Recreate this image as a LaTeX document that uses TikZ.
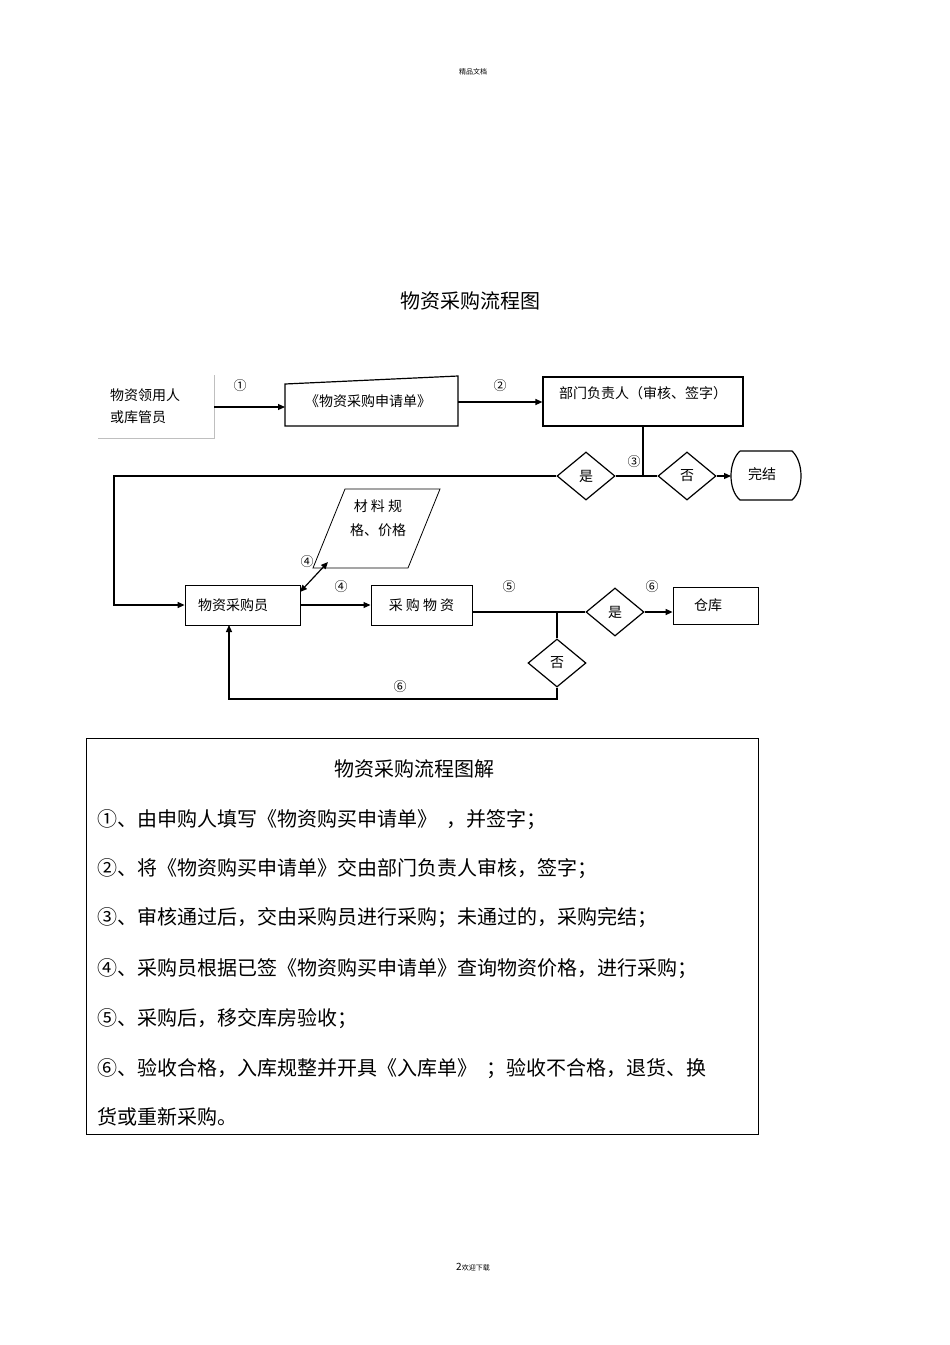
\documentclass[tikz,border=0pt]{standalone}
\usepackage{fontspec}
\setmainfont{Noto Sans CJK SC}
\usetikzlibrary{arrows.meta,shapes.geometric}
\begin{document}
\begin{tikzpicture}[x=1pt,y=-1pt,
  ln/.style={line width=1.2pt},
  arr/.style={ln,-{Triangle[length=7pt,width=6pt]}},
  dia/.style={draw,line width=1.2pt,diamond,minimum width=58pt,minimum height=48pt,inner sep=0pt},
  lab/.style={font=\fontsize{14}{16}\selectfont,inner sep=0pt},
  num/.style={font=\fontsize{13}{14}\selectfont,inner sep=0pt},
  expl/.style={font=\fontsize{20}{22}\selectfont,anchor=west,inner sep=0pt}]
\useasboundingbox[fill=white] (0,0) rectangle (950,1345);
\node[font=\fontsize{7}{8}\selectfont] (hdr) at (473,72) {精品文档};
\node[font=\fontsize{20}{22}\selectfont] (title) at (470,301) {物资采购流程图};
% box 1
\draw[gray!50,line width=1pt] (98,438) -- (214,438) -- (214,375);
\node[lab,anchor=west,align=left] (req) at (110,406) {物资领用人\\[6pt]或库管员};
\coordinate (reqR) at (214,407);
% form
\draw[ln] (285,384) -- (458,376) -- (458,426) -- (285,426) -- cycle;
\node[lab] (form) at (368,401) {《物资采购申请单》};
\coordinate (formL) at (285,407);
\coordinate (formR) at (458,402);
\draw[arr] (reqR) -- (formL);
\node[num] (n1) at (240,386) {①};
% dept
\node[draw,ln,minimum width=200pt,minimum height=49pt,inner sep=0pt] (dept) at (643,401.5) {};
\node[lab] (deptt) at (643,393) {部门负责人（审核、签字）};
\draw[arr] (formR) -- (dept.west |- formR);
\node[num] (n2) at (500,386) {②};
% decision 1
\node[dia] (yes1) at (586,476) {};
\node[lab] at (yes1) {是};
\node[dia] (no1) at (687,476) {};
\node[lab] at (no1) {否};
\coordinate (j1) at (643,476);
\draw[ln] (dept.south -| j1) -- (j1);
\draw[ln] (yes1.east) -- (no1.west);
\node[num] (n3) at (634,462) {③};
% end
\draw[ln] (740,451) -- (792,451) .. controls (804,462) and (804,490) .. (792,500) -- (740,500) .. controls (728,490) and (728,462) .. (740,451);
\node[lab] (end) at (762,474) {完结};
\draw[arr] (no1.east) -- (731,476);
% purchaser
\node[draw,line width=0.8pt,minimum width=115pt,minimum height=40pt,inner sep=0pt] (buyer) at (242.5,605) {};
\node[lab] at (233,605) {物资采购员};
\coordinate (c1) at (114,476);
\draw[arr] (yes1.west) -- (c1) -- (c1 |- buyer.west) -- (buyer.west);
% parallelogram
\draw[line width=0.8pt] (345,489) -- (440,489) -- (408,568) -- (313,568) -- cycle;
\node[lab,align=center] (spec) at (378,518) {材\ 料\ 规\\[8pt]格、价格};
\coordinate (specB) at (328,562);
\coordinate (buyerC) at (300,592);
\draw[ln,{Triangle[length=7pt,width=6pt]}-{Triangle[length=7pt,width=6pt]}] (buyerC) -- (specB);
\node[num] (n4a) at (307,562) {④};
% buy goods
\node[draw,line width=1pt,minimum width=101pt,minimum height=40pt,inner sep=0pt] (buy) at (421.5,605) {};
\node[lab] at (421.5,605) {采\ 购\ 物\ 资};
\draw[arr] (buyer.east) -- (buy.west);
\node[num] (n4b) at (341,587) {④};
% decision 2
\node[dia] (yes2) at (615,612) {};
\node[lab] at (yes2) {是};
\node[dia] (no2) at (557,663) {};
\node[lab] at (no2) {否};
\draw[ln] (472,612) -- (yes2.west);
\draw[ln] (no2.north) -- (557,612);
\node[draw,line width=0.8pt,minimum width=85pt,minimum height=37pt,inner sep=0pt] (store) at (715.5,605.5) {};
\node[lab] at (708,605) {仓库};
\draw[arr] (yes2.east) -- (store.west |- yes2);
\node[num] (n5) at (509,587) {⑤};
\node[num] (n6a) at (652,587) {⑥};
\coordinate (c2) at (557,699);
\draw[arr] (no2.south) -- (c2) -- (229,699) -- (229,625);
\node[num] (n6b) at (400,687) {⑥};
% explanation
\draw[line width=0.8pt] (86,738) rectangle (758,1134);
\node[font=\fontsize{20}{22}\selectfont] (et) at (414,769) {物资采购流程图解};
\node[expl] (l1) at (97,820) {①、由申购人填写《物资购买申请单》\ \ ，并签字；};
\node[expl] (l2) at (97,869) {②、将《物资购买申请单》交由部门负责人审核，签字；};
\node[expl] (l3) at (97,918) {③、审核通过后，交由采购员进行采购；未通过的，采购完结；};
\node[expl] (l4) at (97,969) {④、采购员根据已签《物资购买申请单》查询物资价格，进行采购；};
\node[expl] (l5) at (97,1019) {⑤、采购后，移交库房验收；};
\node[expl] (l6) at (97,1069) {⑥、验收合格，入库规整并开具《入库单》\ \ ；验收不合格，退货、换};
\node[expl] (l7) at (97,1117) {货或重新采购。};
\node[font=\fontsize{7}{8}\selectfont] (ftr) at (473,1267) {\fontsize{10}{10}\selectfont 2\fontsize{7}{8}\selectfont 欢迎下载};
\end{tikzpicture}
\end{document}
